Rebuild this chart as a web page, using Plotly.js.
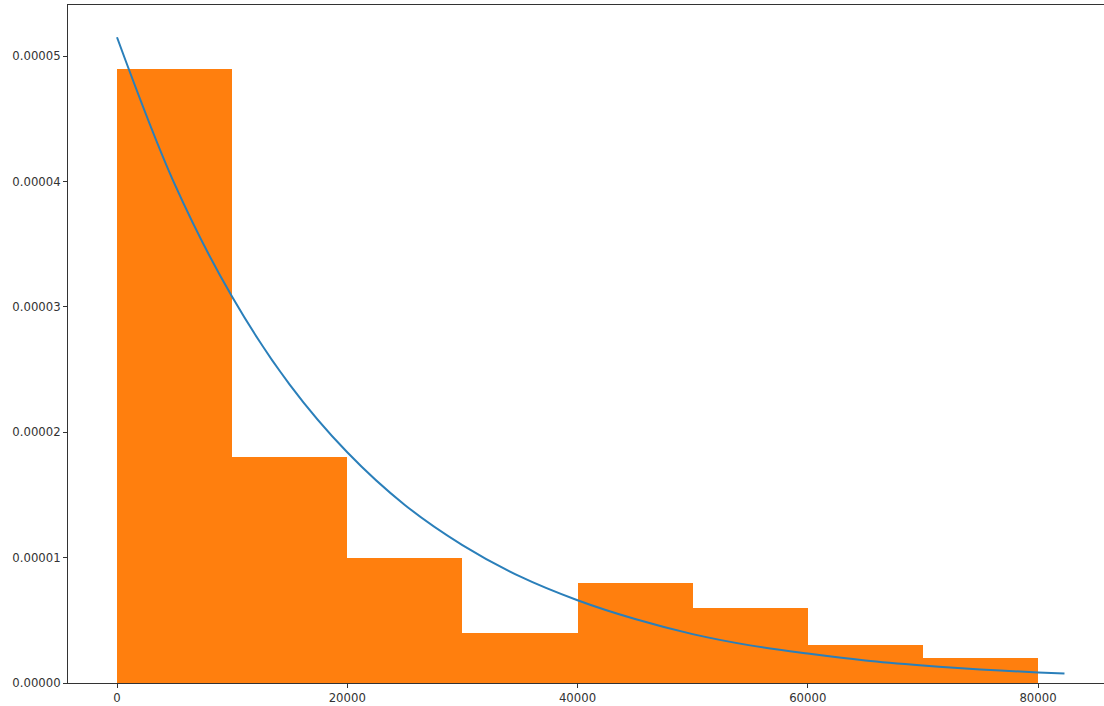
<!DOCTYPE html>
<html>
<head>
<meta charset="utf-8">
<script src="https://cdn.plot.ly/plotly-3.0.1.min.js"></script>
<style>html,body{margin:0;padding:0;background:#fff;}#chart{width:1104px;height:706px;}</style>
</head>
<body>
<div id="chart"></div>
<script>
// Histogram bins (centres, width) and density heights
const binCenters = [5000, 15000, 25000, 35000, 45000, 55000, 65000, 75000];
const binWidth = 10000;
const density = [0.000049, 0.000018, 0.000010, 0.000004, 0.000008, 0.000006, 0.000003, 0.000002];

// Fitted curve points
const curveX = [0, 5000, 10000, 15000, 20000, 25000, 30000, 35000, 40000, 45000, 50000, 55000, 60000, 65000, 70000, 75000, 80000, 82300];
const curveY = [0.0000515, 0.0000398, 0.0000308, 0.0000238, 0.0000184, 0.0000142, 0.0000110, 0.0000085, 0.0000066, 0.0000051, 0.0000039, 0.0000030, 0.00000235, 0.0000018, 0.0000014, 0.00000108, 0.00000084, 0.00000075];

const xTicks = [0, 20000, 40000, 60000, 80000];
const yTicks = [0, 0.00001, 0.00002, 0.00003, 0.00004, 0.00005];

const traces = [
  {
    type: 'bar',
    x: binCenters,
    y: density,
    width: binCenters.map(() => binWidth),
    marker: {color: '#ff7f0e', line: {width: 0}},
    hoverinfo: 'skip'
  },
  {
    type: 'scatter',
    mode: 'lines',
    x: curveX,
    y: curveY,
    line: {color: '#2a7fba', width: 2, shape: 'spline'},
    hoverinfo: 'skip'
  }
];

const axisFont = {family: 'DejaVu Sans, sans-serif', size: 11.7, color: '#333333'};

const layout = {
  width: 1104,
  height: 706,
  margin: {l: 68, r: 0, t: 5, b: 23},
  paper_bgcolor: '#ffffff',
  plot_bgcolor: '#ffffff',
  showlegend: false,
  bargap: 0,
  xaxis: {
    range: [-4256, 85733],
    tickvals: xTicks,
    ticktext: xTicks.map(String),
    showgrid: false,
    zeroline: false,
    showline: true,
    mirror: true,
    linecolor: '#333333',
    linewidth: 1,
    ticks: 'outside',
    ticklen: 4,
    tickcolor: '#333333',
    tickfont: axisFont
  },
  yaxis: {
    range: [0, 0.00005407],
    tickvals: yTicks,
    ticktext: yTicks.map(v => v.toFixed(5)),
    showgrid: false,
    zeroline: false,
    showline: true,
    linecolor: '#333333',
    linewidth: 1,
    ticks: 'outside',
    ticklen: 4,
    tickcolor: '#333333',
    tickfont: axisFont
  }
};

Plotly.newPlot('chart', traces, layout, {displayModeBar: false, staticPlot: true});
</script>
</body>
</html>
